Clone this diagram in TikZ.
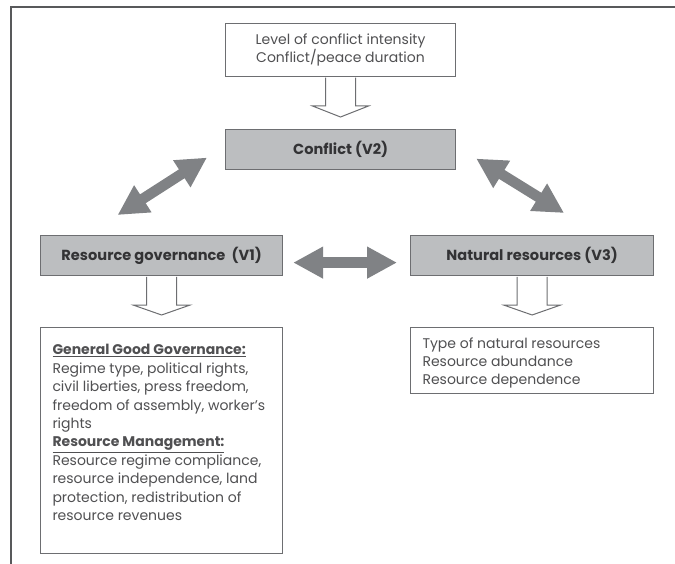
\documentclass[tikz,border=0pt]{standalone}
\usepackage{fontspec}
\setmainfont{Poppins}
\usetikzlibrary{arrows.meta,calc}
\definecolor{boxgray}{HTML}{BCBEC0}
\definecolor{edgegray}{HTML}{6D6E71}
\definecolor{arrowgray}{HTML}{808285}
\definecolor{txtgray}{HTML}{505052}
\definecolor{labgray}{HTML}{333335}
\definecolor{framegray}{HTML}{58595B}
\newcommand\hollowdown[2]{%
  \draw[hollow] ($(#1.south)+(-15,0.6)$) -- ($(#1.south)+(-15,29)$) -- ($(#1.south)+(-28,29)$)
    -- ($(#1.south |- #2.north)+(0,-12)$) -- ($(#1.south)+(28,29)$) -- ($(#1.south)+(15,29)$)
    -- ($(#1.south)+(15,0.6)$);}
\begin{document}
\begin{tikzpicture}[x=1pt,y=-1pt,
  varbox/.style={draw=edgegray, fill=boxgray, line width=1.2pt, minimum height=40pt,
    inner sep=0pt, anchor=north west, font=\fontsize{14.6}{16}\selectfont\bfseries, text=labgray},
  infobox/.style={draw=edgegray, fill=white, line width=1pt, anchor=north west,
    font=\fontsize{14}{18.4}\selectfont, text=txtgray},
  hollow/.style={draw=edgegray, fill=white, line width=1pt, line join=miter},
  dblarrow/.style={draw=arrowgray, fill=arrowgray, line width=10.5pt, {Triangle[length=30pt,width=30pt]}-{Triangle[length=30pt,width=30pt]}},
]
\useasboundingbox (0,0) rectangle (675,564);
% frame
\draw[framegray, line width=2pt] (11,564) -- (11,7) -- (675,7);

% boxes
\node[infobox, minimum width=230pt, minimum height=53pt, inner sep=0pt, align=center] (top) at (225,23)
  {Level of conflict intensity\\Conflict/peace duration};
\node[varbox, minimum width=230pt] (conflict) at (225,129) {Conflict (V2)};
\node[varbox, minimum width=242pt] (gov) at (40,235) {Resource governance\ \ (V1)};
\node[varbox, minimum width=243pt] (nat) at (410,235) {Natural resources (V3)};

\node[infobox, inner xsep=12pt, inner ysep=0pt] (govinfo) at (40,327)
  {\begin{minipage}[c][226pt][t]{218pt}\vspace{17pt}%
   {\bfseries\underline{General Good Governance:}}\\
   Regime type, political rights,\\
   civil liberties, press freedom,\\
   freedom of assembly, worker's\\
   rights\\
   {\bfseries\underline{Resource Management:}}\\
   Resource regime compliance,\\
   resource independence, land\\
   protection, redistribution of\\
   resource revenues\end{minipage}};
\node[infobox, inner xsep=12pt, inner ysep=0pt] (natinfo) at (410,327)
  {\begin{minipage}[c][66pt][t]{219pt}\vspace{10pt}%
   Type of natural resources\\
   Resource abundance\\
   Resource dependence\end{minipage}};

% hollow arrows
\hollowdown{top}{conflict}
\hollowdown{gov}{govinfo}
\hollowdown{nat}{natinfo}

% double arrows
\draw[dblarrow] ($(gov.north)+(-44,-20)$) -- ($(conflict.west)+(-18,8)$);
\draw[dblarrow] ($(conflict.east)+(20,9)$) -- ($(nat.north)+(32,-22)$);
\draw[dblarrow] ($(gov.east)+(10,7)$) -- ($(nat.west)+(-13,7)$);
\end{tikzpicture}
\end{document}
